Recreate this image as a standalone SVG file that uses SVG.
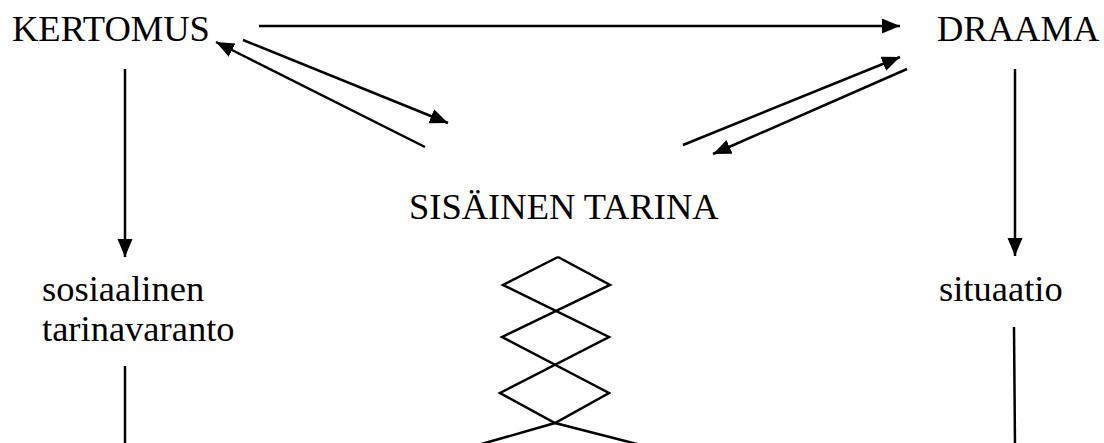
<svg xmlns="http://www.w3.org/2000/svg" width="1104" height="443" viewBox="0 0 1104 443">
<style>
text { font-family: "Liberation Serif", "Times New Roman", serif; font-size: 36.5px; fill: #000; }
.c { stroke: #000; stroke-width: 2.5; fill: none; }
.a { marker-end: url(#ah); }
</style>
<defs>
<marker id="ah" markerUnits="userSpaceOnUse" markerWidth="20" markerHeight="16" refX="18" refY="7.5" orient="auto">
<path d="M0,0 L18,7.5 L0,15 z" fill="#000"/>
</marker>
</defs>
<rect width="1104" height="443" fill="#fff"/>
<g id="kertomus"><text x="12" y="41">KERTOMUS</text></g>
<g id="draama"><text x="937" y="41">DRAAMA</text></g>
<g id="sisainen"><text x="409" y="219">SISÄINEN TARINA</text></g>
<g id="sosiaalinen"><text x="42" y="301">sosiaalinen</text><text x="42" y="341">tarinavaranto</text></g>
<g id="situaatio"><text x="939" y="301">situaatio</text></g>
<g id="zigzag">
<polyline class="c" points="558,257 503,285 609,337 500,393 555,423 633,443 645,446"/>
<polyline class="c" points="558,257 610,285 502,337 609,393 555,423 485,443 474,446"/>
</g>
<g id="connectors">
<line class="c a" x1="259" y1="26" x2="900" y2="26"/>
<line class="c a" x1="243" y1="40" x2="448" y2="123"/>
<line class="c a" x1="425" y1="147" x2="216" y2="42"/>
<line class="c a" x1="683" y1="145" x2="900" y2="57"/>
<line class="c a" x1="907" y1="69" x2="713" y2="154"/>
<line class="c a" x1="125" y1="69" x2="125" y2="257"/>
<line class="c a" x1="1015" y1="69" x2="1015" y2="256"/>
<line class="c" x1="125" y1="366" x2="125" y2="446"/>
<line class="c" x1="1014" y1="327" x2="1015" y2="446"/>
</g>
</svg>
